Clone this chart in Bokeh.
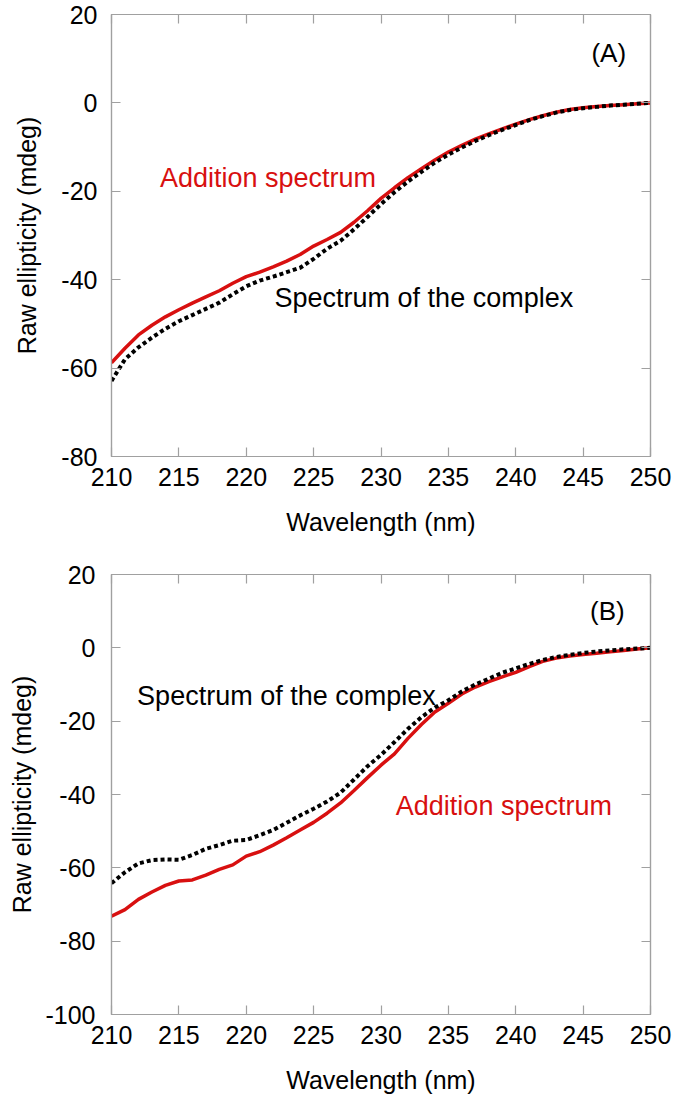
from bokeh.plotting import figure
from bokeh.models import Range1d, LinearAxis, SingleIntervalTicker, Label, CustomJSTickFormatter
from bokeh.layouts import column
from bokeh.embed import file_html
from bokeh.resources import INLINE

# ---------------- data ----------------
wavelength = list(range(210, 251))

# Panel A
addition_a = [-58.8, -55.5, -52.5, -50.3, -48.4, -46.8, -45.3, -43.9, -42.5, -40.8,
              -39.3, -38.3, -37.1, -35.8, -34.3, -32.4, -30.9, -29.3, -27.0, -24.4,
              -21.6, -19.2, -16.9, -14.9, -12.9, -11.1, -9.6, -8.2, -7.0, -5.9,
              -4.8, -3.8, -2.9, -2.1, -1.5, -1.1, -0.8, -0.6, -0.4, -0.2, 0.0]
complex_a = [-62.9, -58.0, -55.3, -53.1, -51.1, -49.4, -48.0, -46.6, -45.2, -43.3,
             -41.5, -40.2, -39.3, -38.3, -37.3, -35.3, -33.0, -31.2, -28.6, -25.8,
             -22.9, -20.2, -17.8, -15.6, -13.5, -11.7, -10.1, -8.6, -7.3, -6.1,
             -5.0, -3.9, -3.0, -2.2, -1.6, -1.2, -0.9, -0.6, -0.4, -0.2, 0.0]

# Panel B
addition_b = [-73.2, -71.4, -68.6, -66.6, -64.8, -63.6, -63.3, -62.0, -60.4, -59.2,
              -56.8, -55.6, -53.8, -51.8, -49.7, -47.6, -45.1, -42.3, -38.9, -35.4,
              -32.0, -28.9, -24.7, -20.9, -17.5, -15.1, -12.6, -10.7, -9.2, -7.9,
              -6.7, -5.1, -3.7, -2.8, -2.2, -1.8, -1.5, -1.1, -0.7, -0.3, 0.0]
complex_b = [-64.2, -61.2, -58.8, -57.9, -57.7, -57.8, -56.5, -54.8, -53.8, -52.6,
             -52.4, -51.1, -49.7, -47.7, -45.7, -43.9, -41.9, -39.5, -35.9, -32.3,
             -29.2, -25.7, -22.1, -18.9, -16.3, -14.3, -11.9, -10.0, -8.4, -6.8,
             -5.6, -4.4, -3.3, -2.5, -1.9, -1.4, -1.0, -0.7, -0.4, -0.2, 0.0]

x_label = "Wavelength (nm)"
y_label = "Raw ellipticity (mdeg)"

FONT = "Liberation Sans"
GRAY = "#a0a0a0"
RED = "#d81010"


def panel(add, cplx, ymin, tag, tag_xy, cplx_xy, add_xy,
          height, b_left, b_right, b_top, b_bottom, ylab_standoff, xlab_standoff, ystand):
    p = figure(width=676, height=height, x_range=Range1d(210, 250), y_range=Range1d(ymin, 20),
               output_backend="svg", toolbar_location=None,
               min_border_left=b_left, min_border_right=b_right,
               min_border_top=b_top, min_border_bottom=b_bottom)
    p.xgrid.visible = False
    p.ygrid.visible = False
    p.outline_line_color = GRAY
    p.outline_line_width = 1.2
    p.background_fill_color = "white"
    p.border_fill_color = "white"

    xt = SingleIntervalTicker(interval=5, num_minor_ticks=0)
    yt = SingleIntervalTicker(interval=20, num_minor_ticks=0)
    fmt = CustomJSTickFormatter(code="return tick.toFixed(0);")

    for ax in (p.xaxis[0], p.yaxis[0]):
        ax.axis_line_color = GRAY
        ax.axis_line_width = 1.2
        ax.major_tick_line_color = GRAY
        ax.major_tick_line_width = 1.2
        ax.major_tick_in = 9
        ax.major_tick_out = 0
        ax.minor_tick_in = 0
        ax.minor_tick_out = 0
        ax.formatter = fmt
        ax.major_label_text_font = FONT
        ax.major_label_text_font_size = "25px"
        ax.major_label_text_color = "black"
        ax.axis_label_text_font = FONT
        ax.axis_label_text_font_size = "25px"
        ax.axis_label_text_font_style = "normal"
        ax.axis_label_text_color = "black"
    p.xaxis[0].ticker = xt
    p.yaxis[0].ticker = yt
    p.xaxis[0].axis_label = x_label
    p.yaxis[0].axis_label = y_label
    p.xaxis[0].major_label_standoff = 11
    p.yaxis[0].major_label_standoff = ystand
    p.xaxis[0].axis_label_standoff = xlab_standoff
    p.yaxis[0].axis_label_standoff = ylab_standoff

    blank = CustomJSTickFormatter(code="return '';")
    for side, tk in (("above", xt), ("right", yt)):
        ax = LinearAxis(ticker=tk, formatter=blank, axis_line_color=GRAY, axis_line_width=1.2,
                        major_tick_line_color=GRAY, major_tick_line_width=1.2,
                        major_tick_in=9, major_tick_out=0, minor_tick_in=0, minor_tick_out=0,
                        major_label_text_font_size="1px", major_label_standoff=0)
        p.add_layout(ax, side)

    p.line(wavelength, add, line_color=RED, line_width=3.5)
    p.line(wavelength, cplx, line_color="black", line_width=4, line_dash="4 3", line_cap="butt")

    p.add_layout(Label(x=tag_xy[0], y=tag_xy[1], text=tag, text_font=FONT, text_font_size="26px",
                       text_color="black", text_align="center", text_baseline="middle"))
    p.add_layout(Label(x=cplx_xy[0], y=cplx_xy[1], text="Spectrum of the complex", text_font=FONT,
                       text_font_size="27px", text_color="black", text_align="left",
                       text_baseline="middle"))
    p.add_layout(Label(x=add_xy[0], y=add_xy[1], text="Addition spectrum", text_font=FONT,
                       text_font_size="27px", text_color=RED, text_align="left",
                       text_baseline="middle"))
    return p


pa = panel(addition_a, complex_a, -80, "(A)", (246.9, 11.3), (222.1, -44.2), (213.6, -17.1),
           height=546, b_left=106, b_right=26, b_top=14, b_bottom=90,
           ylab_standoff=17, xlab_standoff=19, ystand=14)
pb = panel(addition_b, complex_b, -100, "(B)", (246.8, 10.0), (211.9, -13.0), (231.1, -43.0),
           height=550, b_left=111, b_right=22, b_top=28, b_bottom=79,
           ylab_standoff=6, xlab_standoff=19, ystand=16)

layout = column(pa, pb)
open("out.html", "w").write(file_html(layout, INLINE))
